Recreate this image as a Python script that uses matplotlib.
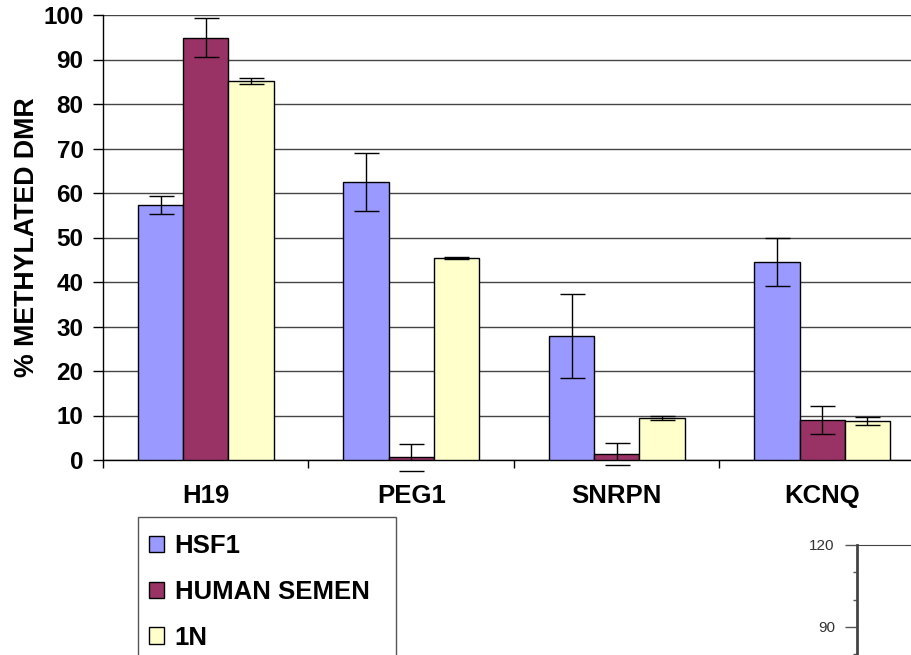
import numpy as np
import matplotlib
matplotlib.use("Agg")
import matplotlib.pyplot as plt
from matplotlib.patches import Rectangle

plt.rcParams['font.family'] = ['Liberation Sans', 'DejaVu Sans']

# ---- Data ----
genes = ['H19', 'PEG1', 'SNRPN', 'KCNQ']
samples = ['HSF1', 'HUMAN SEMEN', '1N']
hsf1 = [57.3, 62.5, 27.9, 44.5]
hsf1_err = [2.0, 6.5, 9.4, 5.3]
semen = [94.9, 0.6, 1.4, 9.0]
semen_err = [4.4, 3.0, 2.5, 3.1]
haploid = [85.2, 45.4, 9.4, 8.7]
haploid_err = [0.7, 0.3, 0.4, 0.9]

colors = ['#9999FF', '#993366', '#FFFFCC']

W, H = 912, 655
fig = plt.figure(figsize=(W / 100, H / 100), dpi=100)

# main axes runs a little past the right edge
ax = fig.add_axes([103 / W, 1 - 460 / H, 822 / W, 445 / H])

x = np.arange(len(genes))
bw = 0.22
series = [(hsf1, hsf1_err), (semen, semen_err), (haploid, haploid_err)]
for i, (vals, errs) in enumerate(series):
    pos = x + (i - 1) * bw
    ax.bar(pos, vals, bw, color=colors[i], edgecolor='black', linewidth=1,
           label=samples[i], zorder=3)
    eb = ax.errorbar(pos, vals, yerr=errs, fmt='none', ecolor='black',
                     elinewidth=1, capsize=9, capthick=1, zorder=4)
    for cap in eb[1]:
        cap.set_clip_on(False)

ax.set_xlim(-0.5, 3.5)
ax.set_ylim(0, 100)
ax.set_yticks(range(0, 101, 10))
ax.yaxis.grid(True, color='#444444', linewidth=1, zorder=0)
ax.set_axisbelow(True)

for s in ['top', 'right']:
    ax.spines[s].set_visible(False)
ax.spines['left'].set_linewidth(1)
ax.spines['bottom'].set_linewidth(1)

ax.tick_params(axis='y', length=7, width=1, pad=7, labelsize=17.5)
for lbl in ax.get_yticklabels():
    lbl.set_fontweight('bold')

ax.set_xticks(x)
ax.set_xticklabels(genes, fontsize=18.5, fontweight='bold')
ax.set_xticks(np.arange(-0.5, 3.6, 1), minor=True)
ax.tick_params(axis='x', which='major', length=0, pad=17)
ax.tick_params(axis='x', which='minor', length=6, width=1)

ax.set_ylabel('% METHYLATED DMR', fontsize=19.3, fontweight='bold', labelpad=2)

# legend box below the chart
fig.add_artist(Rectangle((138 / W, -0.2), 258 / W, 0.2 + 1 - 517 / H,
                         transform=fig.transFigure, facecolor='white',
                         edgecolor='#555555', linewidth=1))
fig.legend(loc='upper left', bbox_to_anchor=(149 / W, 1 - 534 / H),
           frameon=False, prop={'size': 18.5, 'weight': 'bold'},
           handlelength=0.6, handleheight=0.6, handletextpad=0.4,
           labelspacing=0.85, borderpad=0, borderaxespad=0)

# corner of the neighbouring chart
ax2 = fig.add_axes([857 / W, 0, 0.2, 110 / H])
ax2.set_ylim(120 - 110 / 2.73, 120)
ax2.set_yticks([90, 120])
ax2.set_yticks(range(80, 121, 10), minor=True)
ax2.set_xticks([])
ax2.tick_params(axis='y', which='major', length=9, width=1, color='#555555',
                labelsize=11, labelcolor='#333333', pad=7)
ax2.tick_params(axis='y', which='minor', length=3, width=1, color='#555555')
for s in ['right', 'bottom']:
    ax2.spines[s].set_visible(False)
ax2.spines['left'].set_linewidth(2)
ax2.spines['left'].set_color('#444444')
ax2.spines['top'].set_color('#444444')

fig.savefig('out.png', dpi=100)
